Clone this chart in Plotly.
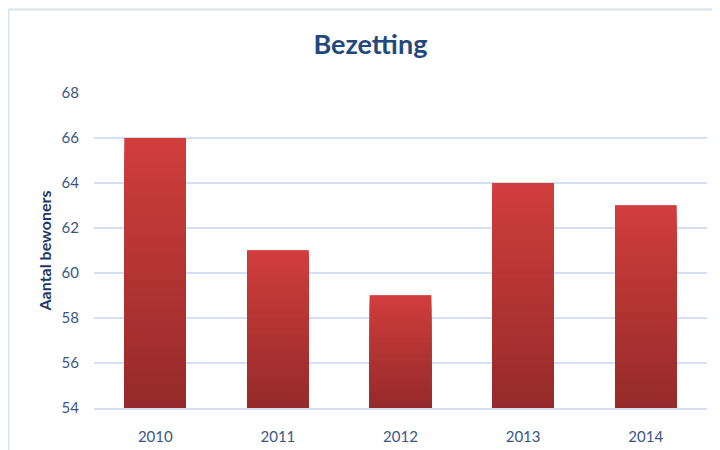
import plotly.graph_objects as go

years = ["2010", "2011", "2012", "2013", "2014"]
bewoners = [66, 61, 59, 64, 63]
y_min, y_max = 54, 68
tick_vals = [54, 56, 58, 60, 62, 64, 66, 68]

top_rgb = (207, 62, 60)
bot_rgb = (150, 42, 42)
steps = 40

fig = go.Figure()
layers = [0, 0, 0] + list(range(1, steps))
for k in layers:
    f = (steps - k) / steps
    t = k / (steps - 1)
    c = tuple(round(top_rgb[i] + (bot_rgb[i] - top_rgb[i]) * t) for i in range(3))
    fig.add_trace(go.Bar(
        x=years,
        y=[(v - y_min) * f for v in bewoners],
        base=y_min,
        marker=dict(color="rgb(%d,%d,%d)" % c, line=dict(width=0)),
        showlegend=False,
        hoverinfo="skip",
    ))

grid_col = "#D2DFF4"

# page body has an 8px margin; layout below compensates for it
fig.update_layout(
    width=712, height=442,
    barmode="overlay", bargap=0.5,
    paper_bgcolor="white", plot_bgcolor="white",
    margin=dict(l=86, r=13, t=85, b=42),
    title=dict(text="<b>Bezetting</b>", xref="container", x=0.509, xanchor="center",
               y=0.917, yanchor="middle",
               font=dict(family="Lato", size=27, color="#1F497D")),
    font=dict(family="Lato", size=15, color="#3A5683"),
)
fig.update_yaxes(range=[y_min, y_max], tickvals=tick_vals, showgrid=True, automargin=False,
                 gridcolor=grid_col, gridwidth=1.5, zeroline=False, showline=False,
                 ticks="", ticklabelstandoff=14,
                 title=dict(text="<b>Aantal bewoners</b>", standoff=5,
                            font=dict(family="Lato", size=16, color="#1F3864")))
fig.update_xaxes(showline=True, linecolor=grid_col, linewidth=1.5, ticks="", automargin=False,
                 ticklabelstandoff=14)

# chart frame (top and left edges)
fig.add_shape(type="line", xref="paper", yref="paper", x0=-0.1395, x1=1.1, y0=1.265, y1=1.265,
              line=dict(color="#D9E2F0", width=2))
fig.add_shape(type="line", xref="paper", yref="paper", x0=-0.1395, x1=-0.1395, y0=-0.2, y1=1.265,
              line=dict(color="#D9E2F0", width=2))

fig.write_html("out.html")
